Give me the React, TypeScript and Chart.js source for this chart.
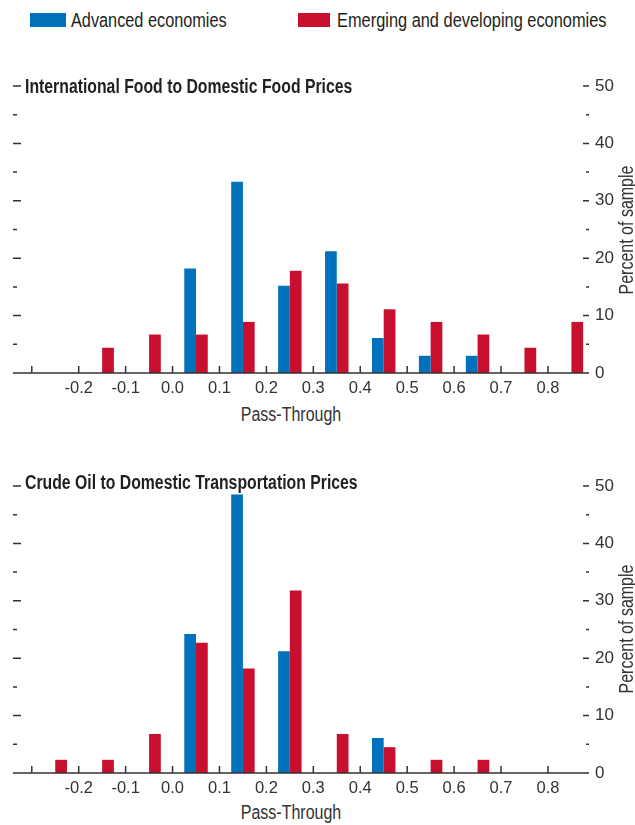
import React, { useEffect, useRef } from "react";
import { Chart, registerables } from "chart.js";

Chart.register(...registerables);

// ---- Data ----
const binCenters = [-0.25, -0.15, -0.05, 0.05, 0.15, 0.25, 0.35, 0.45, 0.55, 0.65, 0.75, 0.85];
const xTickMarks = [-0.3, -0.2, -0.1, 0.0, 0.1, 0.2, 0.3, 0.4, 0.5, 0.6, 0.7, 0.8];
const xTickLabels = [-0.2, -0.1, 0.0, 0.1, 0.2, 0.3, 0.4, 0.5, 0.6, 0.7, 0.8];
const yTickLabels = [0, 10, 20, 30, 40, 50];
const yTickMarks = [0, 5, 10, 15, 20, 25, 30, 35, 40, 45, 50];
const seriesNames = ["Advanced economies", "Emerging and developing economies"];
const panelTitles = ["International Food to Domestic Food Prices", "Crude Oil to Domestic Transportation Prices"];
const xAxisTitle = "Pass-Through";
const yAxisTitle = "Percent of sample";

const foodAdvanced = [0, 0, 0, 18.2, 33.3, 15.2, 21.2, 6.1, 3.0, 3.0, 0, 0];
const foodEmerging = [0, 4.4, 6.7, 6.7, 8.9, 17.8, 15.6, 11.1, 8.9, 6.7, 4.4, 8.9];
const oilAdvanced = [0, 0, 0, 24.2, 48.5, 21.2, 0, 6.1, 0, 0, 0, 0];
const oilEmerging = [2.3, 2.3, 6.8, 22.7, 18.2, 31.8, 6.8, 4.5, 2.3, 2.3, 0, 0];

// ---- Styles ----
const BLUE = "#0072BC";
const RED = "#C8102E";
const INK = "#231f20";
const AXIS = "#333333";
const FONT = "'Liberation Sans', Arial, sans-serif";
const SQ = 0.82; // horizontal condensing of HTML text
const W = 635;
const CH = 340;

const ticksPlugin = {
  id: "customTicks",
  afterDraw(chart: any) {
    const { ctx, chartArea: a, scales } = chart;
    const x = scales.x;
    const y = scales.y;
    ctx.save();
    ctx.strokeStyle = AXIS;
    ctx.lineWidth = 1.5;
    ctx.beginPath();
    yTickMarks.forEach((v) => {
      if (v === 0) return;
      const py = y.getPixelForValue(v);
      const major = v % 10 === 0;
      ctx.moveTo(a.left, py);
      ctx.lineTo(a.left + (major ? 8 : 4), py);
      ctx.moveTo(a.right - (major ? 6 : 3), py);
      ctx.lineTo(a.right, py);
    });
    xTickMarks.forEach((v) => {
      const px = x.getPixelForValue(v);
      ctx.moveTo(px, a.bottom);
      ctx.lineTo(px, a.bottom - 7);
    });
    ctx.moveTo(a.left, a.bottom);
    ctx.lineTo(a.right, a.bottom);
    ctx.stroke();
    ctx.restore();
  },
};

function Hist({ top, advanced, emerging }: { top: number; advanced: number[]; emerging: number[] }) {
  const ref = useRef<HTMLCanvasElement | null>(null);
  useEffect(() => {
    if (!ref.current) return;
    const chart = new Chart(ref.current, {
      type: "bar",
      data: {
        datasets: [
          {
            label: seriesNames[0],
            data: binCenters.map((c, i) => ({ x: c, y: advanced[i] })),
            backgroundColor: BLUE,
            borderWidth: 0,
          },
          {
            label: seriesNames[1],
            data: binCenters.map((c, i) => ({ x: c, y: emerging[i] })),
            backgroundColor: RED,
            borderWidth: 0,
          },
        ],
      },
      options: {
        responsive: false,
        animation: false,
        categoryPercentage: 0.5,
        barPercentage: 1.0,
        layout: { padding: { top: 26, left: 13, right: 0, bottom: 0 } },
        plugins: { legend: { display: false }, tooltip: { enabled: false } },
        scales: {
          x: {
            type: "linear",
            min: -0.34,
            max: 0.8875,
            offset: false,
            grid: { display: false, drawTicks: false, offset: false },
            border: { display: false },
            afterBuildTicks: (s: any) => {
              s.ticks = xTickLabels.map((v) => ({ value: v }));
            },
            afterFit: (s: any) => {
              s.height = CH - 313;
            },
            ticks: {
              autoSkip: false,
              maxRotation: 0,
              padding: 6,
              color: AXIS,
              font: { family: FONT, size: 16.5 },
              callback: (v: any) => Number(v).toFixed(1),
            },
          },
          y: {
            type: "linear",
            position: "right",
            min: 0,
            max: 50,
            grid: { display: false, drawTicks: false },
            border: { display: false },
            afterBuildTicks: (s: any) => {
              s.ticks = yTickLabels.map((v) => ({ value: v }));
            },
            afterFit: (s: any) => {
              s.width = W - 589;
            },
            ticks: {
              padding: 6,
              color: AXIS,
              font: { family: FONT, size: 17 },
            },
          },
        },
      },
      plugins: [ticksPlugin],
    } as any);
    return () => chart.destroy();
  }, [advanced, emerging]);
  return (
    <canvas
      ref={ref}
      width={W}
      height={CH}
      style={{ position: "absolute", left: 0, top, width: W, height: CH }}
    />
  );
}

const abs = (s: React.CSSProperties): React.CSSProperties => ({ position: "absolute", whiteSpace: "nowrap", ...s });
const leftText = (left: number, cy: number, size: number, sq: number, extra: React.CSSProperties = {}) =>
  abs({
    left,
    top: cy,
    fontSize: size,
    lineHeight: "22px",
    transformOrigin: "left center",
    transform: `translateY(-50%) scaleX(${sq})`,
    ...extra,
  });
const centerText = (cx: number, cy: number, size: number, rot = 0) =>
  abs({
    left: cx,
    top: cy,
    fontSize: size,
    lineHeight: "22px",
    color: AXIS,
    transform: `translate(-50%,-50%) rotate(${rot}deg) scaleX(${SQ})`,
  });

export default function App() {
  return (
    <div
      style={{
        position: "absolute",
        left: 0,
        top: 0,
        width: W,
        height: 825,
        background: "#fff",
        fontFamily: FONT,
        color: INK,
        overflow: "hidden",
      }}
    >
      {/* Legend */}
      <div style={abs({ left: 30, top: 13, width: 36, height: 14, background: BLUE })} />
      <div style={leftText(71, 20, 19.5, 0.835)}>{seriesNames[0]}</div>
      <div style={abs({ left: 298, top: 13, width: 32, height: 14, background: RED })} />
      <div style={leftText(337, 20, 19.5, 0.84)}>{seriesNames[1]}</div>

      <Hist top={60} advanced={foodAdvanced} emerging={foodEmerging} />
      <Hist top={460} advanced={oilAdvanced} emerging={oilEmerging} />

      {/* Panel titles */}
      <div style={leftText(25, 86, 19.5, 0.81, { fontWeight: "bold" })}>{panelTitles[0]}</div>
      <div style={leftText(25, 482, 19.5, 0.81, { fontWeight: "bold" })}>{panelTitles[1]}</div>

      {/* Axis titles */}
      <div style={centerText(291, 414, 19.5)}>{xAxisTitle}</div>
      <div style={centerText(291, 812, 19.5)}>{xAxisTitle}</div>
      <div style={centerText(626, 230, 19.5, -90)}>{yAxisTitle}</div>
      <div style={centerText(626, 629, 19.5, -90)}>{yAxisTitle}</div>
    </div>
  );
}
